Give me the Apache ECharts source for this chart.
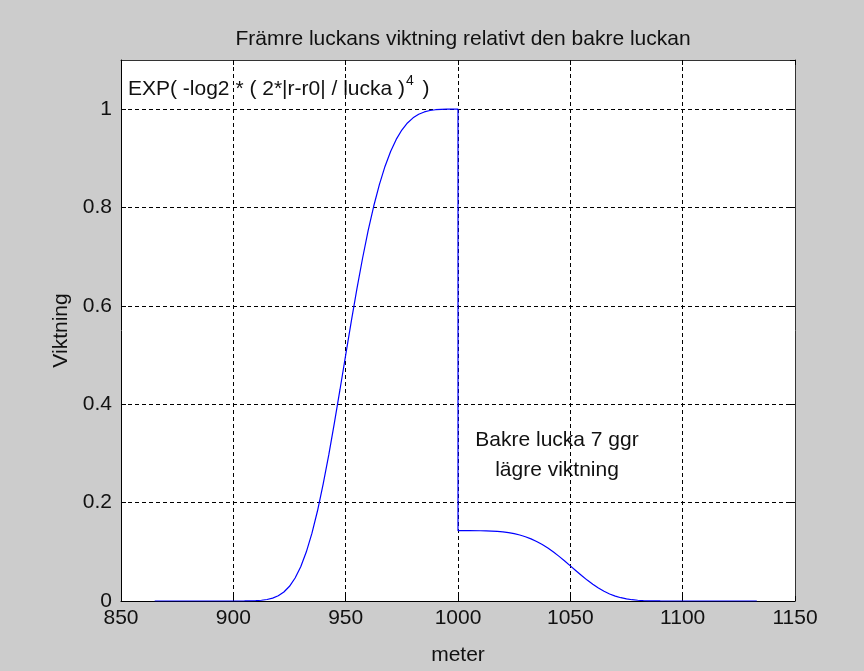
<!DOCTYPE html>
<html>
<head lang="sv">
    <meta charset="UTF-8">
    <title>Viktning</title>
    <style>
        body{margin:0;background:#cccccc;}
        #chart{width:864px;height:671px;}
    </style>
</head>
<body>
<div id="chart"></div>
<script src="https://cdn.jsdelivr.net/npm/echarts@6/dist/echarts.min.js"></script>
<script>
    // avstånd (meter) och viktning, avläst ur bilden
    // främre luckan
    var frontMeters = [865, 900, 905, 910, 912.5, 915, 917.5, 920, 922.5, 925, 927.5, 930, 932.5, 935, 937.5, 940, 942.5, 945, 947.5,
                       950, 952.5, 955, 957.5, 960, 962.5, 965, 967.5, 970, 972.5, 975, 977.5, 980, 982.5, 985, 987.5, 990, 995, 1000];
    var frontWeights = [0, 0, 0.0001, 0.0007, 0.0015, 0.0031, 0.0059, 0.0106, 0.0183, 0.0299, 0.0467, 0.0698, 0.100, 0.138, 0.184, 0.238, 0.2975, 0.3625, 0.4306,
                        0.500, 0.5686, 0.6346, 0.6964, 0.7529, 0.8031, 0.8467, 0.8836, 0.9141, 0.9385, 0.9576, 0.972, 0.9824, 0.9897, 0.9944, 0.9973, 0.9989, 1, 1];
    // bakre luckan
    var backMeters = [1000, 1005, 1010, 1012.5, 1015, 1017.5, 1020, 1022.5, 1025, 1027.5, 1030, 1032.5, 1035, 1037.5, 1040, 1042.5, 1045, 1047.5,
                      1050, 1052.5, 1055, 1057.5, 1060, 1062.5, 1065, 1067.5, 1070, 1072.5, 1075, 1077.5, 1080, 1082.5, 1085, 1090, 1100, 1133];
    var backWeights = [0.143, 0.143, 0.1428, 0.1426, 0.1422, 0.1415, 0.1405, 0.1390, 0.1369, 0.1342, 0.1307, 0.1264, 0.1211, 0.1148, 0.1077, 0.0996, 0.0907, 0.0813,
                       0.0715, 0.0616, 0.0518, 0.0425, 0.0341, 0.0263, 0.0197, 0.0143, 0.0100, 0.0067, 0.0043, 0.0026, 0.0015, 0.0008, 0.0004, 0.0001, 0, 0];
    var xTicks = [850, 900, 950, 1000, 1050, 1100, 1150];
    var yTicks = [0, 0.2, 0.4, 0.6, 0.8, 1];

    var font = 'Liberation Sans';
    var chart = echarts.init(document.getElementById('chart'));

    var points = frontMeters.map(function(m, i){ return [m, frontWeights[i]]; })
        .concat(backMeters.map(function(m, i){ return [m, backWeights[i]]; }));

    var gridLine = {show:true, lineStyle:{color:'#000', width:1, type:[4,3]}};

    var option = {
        backgroundColor:'#cccccc',
        animation:false,
        title:{
            text:'Främre luckans viktning relativt den bakre luckan',
            left:458, top:24, textAlign:'center',
            textStyle:{fontFamily:font, fontSize:21, fontWeight:'normal', color:'#111'}
        },
        grid:{left:121, right:69, top:60, bottom:67, show:true, backgroundColor:'#fff', borderWidth:0},
        xAxis:[{
            type:'value', min:850, max:1150, interval:50,
            name:'meter', nameLocation:'middle', nameGap:44,
            nameTextStyle:{fontFamily:font, fontSize:21, color:'#111'},
            axisLine:{show:true, lineStyle:{color:'#000'}},
            axisTick:{show:true, inside:true, length:5, lineStyle:{color:'#000'}},
            axisLabel:{fontFamily:font, fontSize:21, color:'#111', margin:7,
                formatter:function(v){ return xTicks.indexOf(v) >= 0 ? String(v) : ''; }},
            splitLine:gridLine
        },{
            type:'value', min:850, max:1150, interval:50, position:'top',
            axisLine:{show:true, onZero:false, lineStyle:{color:'#333'}},
            axisTick:{show:true, inside:true, length:5, lineStyle:{color:'#000'}},
            axisLabel:{show:false}, splitLine:{show:false}
        }],
        yAxis:[{
            type:'value', min:0, max:1.1, interval:0.2,
            name:'Viktning', nameLocation:'middle', nameGap:48, nameRotate:90,
            nameTextStyle:{fontFamily:font, fontSize:21, color:'#111'},
            axisLine:{show:true, lineStyle:{color:'#000'}},
            axisTick:{show:true, inside:true, length:5, lineStyle:{color:'#000'}},
            axisLabel:{fontFamily:font, fontSize:21, color:'#111', margin:9, showMaxLabel:false,
                formatter:function(v){ var r = Math.round(v*10)/10; return yTicks.indexOf(r) >= 0 ? String(r) : ''; }},
            splitLine:gridLine
        },{
            type:'value', min:0, max:1.1, interval:0.2, position:'right',
            axisLine:{show:true, onZero:false, lineStyle:{color:'#333'}},
            axisTick:{show:true, inside:true, length:5, lineStyle:{color:'#000'}},
            axisLabel:{show:false}, splitLine:{show:false}
        }],
        series:[{
            type:'line', data:points, showSymbol:false, symbol:'none',
            lineStyle:{color:'#0000ff', width:1.2}
        }],
        graphic:[{
            type:'text', left:128, top:74,
            style:{
                text:'{a|EXP( -log2 * ( 2*|r-r0| / lucka )}{s|4}{a| )}',
                rich:{
                    a:{fontFamily:font, fontSize:21, fill:'#111', verticalAlign:'bottom'},
                    s:{fontFamily:font, fontSize:14, fill:'#111', verticalAlign:'top', padding:[0,3,12,1]}
                }
            }
        },{
            type:'text', x:557, y:425,
            style:{
                text:'Bakre lucka 7 ggr\nlägre viktning', align:'center', lineHeight:30,
                fontFamily:font, fontSize:21, fill:'#111'
            }
        }]
    };
    chart.setOption(option);
</script>
</body>
</html>
